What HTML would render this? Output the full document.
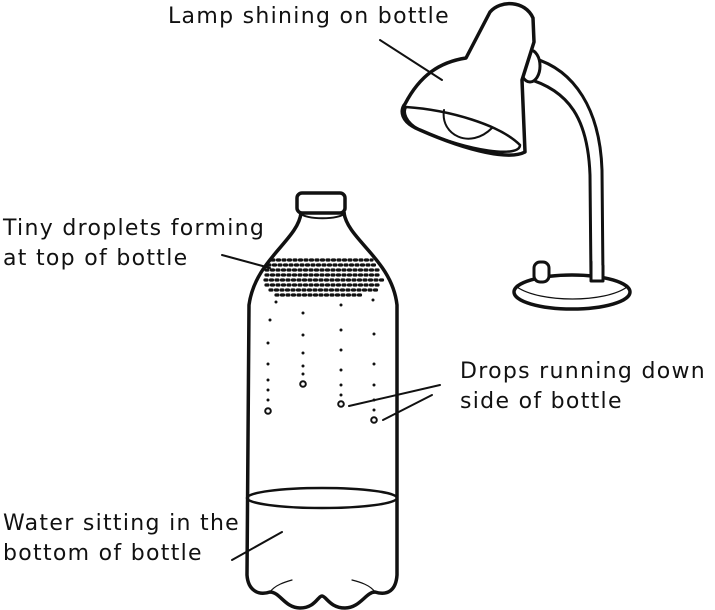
<!DOCTYPE html>
<html><head><style>
body{margin:0;background:#fff;}
.t{position:absolute;font-family:"DejaVu Sans",sans-serif;font-size:22px;letter-spacing:1.3px;color:#111;line-height:30px;white-space:nowrap}
</style></head><body>
<div style="position:relative;width:715px;height:610px;overflow:hidden">
<svg width="715" height="610" style="position:absolute;left:0;top:0" fill="none" stroke="#111" stroke-linecap="round" stroke-linejoin="round">
<path d="M533 58 C575 70 600 110 602 170 L603 280 L591 280 L590 175 C588 120 570 90 525 78" stroke-width="3" fill="#fff"/>
<ellipse cx="572" cy="292" rx="58" ry="17" stroke-width="3.5" fill="#fff"/>
<path d="M517 287 C540 303 605 303 627 287" stroke-width="1.2"/>
<path d="M591 262 L591 281 L603 281 L603 266" stroke-width="3" fill="#fff"/>
<rect x="534" y="262" width="15" height="20" rx="6" stroke-width="3" fill="#fff"/>
<ellipse cx="530" cy="66" rx="10" ry="16" stroke-width="3" fill="#fff"/>
<path d="M466 58 L490 12 C500 0 525 0 533 18 L534 42 L522 80 L525 152 C510 160 470 152 420 130 C400 122 400 110 405 104 C420 75 440 62 466 58 Z" stroke-width="3.5" fill="#fff"/>
<path d="M406 107 C450 110 500 125 520 145 C520 158 470 152 420 130 C405 122 403 112 406 107 Z" stroke-width="2.5"/>
<path d="M444 110 C440 135 470 150 492 128" stroke-width="2"/>
<path d="M301 213 C298 240 255 260 249 305 L247 575 C248 590 258 596 270 592 C280 592 285 608 300 608 C315 608 318 596 322 596 C326 596 330 608 345 608 C360 608 366 592 375 592 C388 596 396 590 397 575 L397 305 C392 260 348 240 344 213" stroke-width="3.5"/>
<rect x="297" y="193" width="48" height="20" rx="5" stroke-width="3.5" fill="#fff"/>
<path d="M300 213 C305 220 340 220 345 213" stroke-width="2"/>
<ellipse cx="322" cy="498" rx="75" ry="10" stroke-width="2.5"/>
<path d="M270 592 C275 585 285 582 292 580 M375 592 C370 585 360 582 352 580" stroke-width="1.2"/>
<g stroke-width="3.2" stroke-dasharray="2 3.5">
<path d="M272 260 H372 M268 265 H377 M266 270 H380 M266 275 H381 M265 280 H383 M266 285 H381 M270 290 H377 M276 295 H362"/>
</g>
<g fill="#111" stroke="none">
<circle cx="276" cy="302" r="1.5"/><circle cx="270" cy="320" r="1.5"/><circle cx="268" cy="343" r="1.5"/><circle cx="268" cy="364" r="1.5"/><circle cx="268" cy="380" r="1.5"/><circle cx="268" cy="390" r="1.5"/><circle cx="268" cy="400" r="1.5"/>
<circle cx="303" cy="313" r="1.5"/><circle cx="303" cy="335" r="1.5"/><circle cx="303" cy="353" r="1.5"/><circle cx="303" cy="366" r="1.5"/><circle cx="303" cy="374" r="1.5"/>
<circle cx="341" cy="305" r="1.5"/><circle cx="341" cy="330" r="1.5"/><circle cx="341" cy="350" r="1.5"/><circle cx="341" cy="370" r="1.5"/><circle cx="341" cy="385" r="1.5"/><circle cx="341" cy="395" r="1.5"/>
<circle cx="373" cy="300" r="1.5"/><circle cx="374" cy="334" r="1.5"/><circle cx="374" cy="364" r="1.5"/><circle cx="374" cy="385" r="1.5"/><circle cx="374" cy="400" r="1.5"/><circle cx="374" cy="410" r="1.5"/>
</g>
<g stroke-width="2"><circle cx="268" cy="411" r="2.8"/><circle cx="303" cy="384" r="2.8"/><circle cx="341" cy="404" r="2.8"/><circle cx="374" cy="420" r="2.8"/></g>
<g stroke-width="2">
<line x1="380" y1="40" x2="442" y2="80"/>
<line x1="222" y1="255" x2="270" y2="268"/>
<line x1="440" y1="385" x2="349" y2="406"/>
<line x1="432" y1="395" x2="383" y2="420"/>
<line x1="232" y1="560" x2="282" y2="532"/>
</g>
</svg>
<div class="t" style="left:168px;top:2px">Lamp shining on bottle</div>
<div class="t" style="left:3px;top:214px">Tiny droplets forming<br>at top of bottle</div>
<div class="t" style="left:460px;top:357px">Drops running down<br>side of bottle</div>
<div class="t" style="left:3px;top:509px">Water sitting in the<br>bottom of bottle</div>
</div>
</body></html>
